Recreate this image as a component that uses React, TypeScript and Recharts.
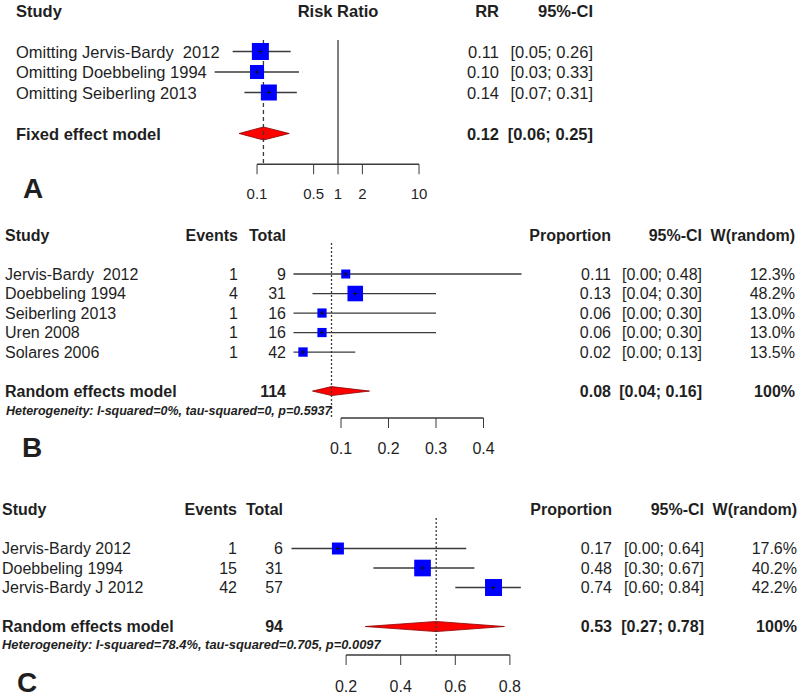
import {
  ComposedChart, Scatter, Area, XAxis, YAxis, ErrorBar, ReferenceLine,
} from 'recharts'

const FONT = '"Liberation Sans", Arial, Helvetica, sans-serif'
const INK = '#1f1f1f'
const LINE = '#3a3a3a'

// A: leave-one-out sensitivity, risk ratio (log scale)
const aStudies = ['Omitting Jervis-Bardy  2012', 'Omitting Doebbeling 1994', 'Omitting Seiberling 2013']
const aRR = [0.11, 0.10, 0.14]
const aLower = [0.05, 0.03, 0.07]
const aUpper = [0.26, 0.33, 0.31]
const aFixed = [0.12, 0.06, 0.25]
const aTicks = [0.1, 0.5, 1, 2, 10]

// B: pooled proportion
const bStudies = ['Jervis-Bardy  2012', 'Doebbeling 1994', 'Seiberling 2013', 'Uren 2008', 'Solares 2006']
const bEvents = [1, 4, 1, 1, 1]
const bTotal = [9, 31, 16, 16, 42]
const bProp = [0.11, 0.13, 0.06, 0.06, 0.02]
const bLower = [0.00, 0.04, 0.00, 0.00, 0.00]
const bUpper = [0.48, 0.30, 0.30, 0.30, 0.13]
const bWeight = [12.3, 48.2, 13.0, 13.0, 13.5]
const bRandom = [0.08, 0.04, 0.16]
const bRandomTotal = 114
const bHetero = 'Heterogeneity: I-squared=0%, tau-squared=0, p=0.5937'
const bTicks = [0.1, 0.2, 0.3, 0.4]

// C: pooled proportion
const cStudies = ['Jervis-Bardy 2012', 'Doebbeling 1994', 'Jervis-Bardy J 2012']
const cEvents = [1, 15, 42]
const cTotal = [6, 31, 57]
const cProp = [0.17, 0.48, 0.74]
const cLower = [0.00, 0.30, 0.60]
const cUpper = [0.64, 0.67, 0.84]
const cWeight = [17.6, 40.2, 42.2]
const cRandom = [0.53, 0.27, 0.78]
const cRandomTotal = 94
const cHetero = 'Heterogeneity: I-squared=78.4%, tau-squared=0.705, p=0.0097'
const cTicks = [0.2, 0.4, 0.6, 0.8]

// box sizes for panel A (no weights printed there)
const aBoxPx = [17, 14, 16]

const f2 = (v: number) => v.toFixed(2)
const ci = (lo: number, hi: number) => `[${f2(lo)}; ${f2(hi)}]`
const pct = (w: number) => `${w.toFixed(1)}%`
const boxSide = (w: number, k: number) => k * Math.pow(w, 0.4)

type Cell = { t: string; x: number; a?: 'start' | 'end' | 'middle'; b?: boolean; i?: boolean; fs?: number }
type Row = { row: number; cells: Cell[] }

function RowTick(props: any) {
  const { y, payload, rows, fs } = props
  const r = (rows as Row[]).find((rr) => Math.abs(rr.row - payload.value) < 1e-6)
  if (!r) return <g />
  return (
    <g>
      {r.cells.map((c, k) => (
        <text
          key={k}
          x={c.x}
          y={y}
          textAnchor={c.a ?? 'start'}
          dominantBaseline="central"
          fontFamily={FONT}
          fontSize={c.fs ?? fs}
          fontWeight={c.b ? 700 : 400}
          fontStyle={c.i ? 'italic' : 'normal'}
          fill={INK}
          style={{ whiteSpace: 'pre' }}
        >
          {c.t}
        </text>
      ))}
    </g>
  )
}

function XTick(props: any) {
  const { x, y, payload, fs } = props
  return (
    <text x={x} y={y} textAnchor="middle" dominantBaseline="central" fontFamily={FONT} fontSize={fs} fill={INK}>
      {String(payload.value)}
    </text>
  )
}

const Box = (props: any) => {
  const { cx, cy, payload } = props
  const s = payload.box
  return (
    <g>
      <rect x={cx - s / 2} y={cy - s / 2} width={s} height={s} fill="#0000ff" />
      <path d={`M${cx - 2},${cy}H${cx + 2}M${cx},${cy - 2}V${cy + 2}`} stroke="#111" strokeWidth={1} />
    </g>
  )
}

type Seg = { x: number; y0: number; y1: number; dash?: string }

type PanelProps = {
  top: number
  height: number
  margin: { top: number; right: number; bottom: number; left: number }
  log?: boolean
  xDomain: [number, number]
  xTicks: number[]
  tickFs: number
  tickMargin: number
  xAxisHeight: number
  yMax: number
  fs: number
  rows: Row[]
  points: { x: number; y: number; err: [number, number]; box: number }[]
  diamond: { x: number; band: [number, number] }[]
  refs: Seg[]
}

function ForestPanel(p: PanelProps) {
  const yTicks = p.rows.map((r) => r.row)
  return (
    <div style={{ position: 'absolute', left: 0, top: p.top }}>
      <ComposedChart width={799} height={p.height} margin={{ ...p.margin, left: p.margin.left - 1 }}>
        <XAxis
          type="number"
          dataKey="x"
          scale={p.log ? 'log' : 'linear'}
          domain={p.xDomain}
          ticks={p.xTicks}
          interval={0}
          axisLine={false}
          tickSize={10}
          tickMargin={p.tickMargin}
          height={p.xAxisHeight}
          stroke={LINE}
          tick={(t: any) => <XTick {...t} fs={p.tickFs} />}
        />
        <YAxis
          type="number"
          dataKey="y"
          domain={[0, p.yMax]}
          reversed
          width={1}
          ticks={yTicks}
          interval={0}
          axisLine={false}
          tickLine={false}
          tick={(t: any) => <RowTick {...t} rows={p.rows} fs={p.fs} />}
        />
        {p.refs.map((s, k) => (
          <ReferenceLine
            key={k}
            segment={[{ x: s.x, y: s.y0 }, { x: s.x, y: s.y1 }]}
            stroke={LINE}
            strokeWidth={1.3}
            strokeDasharray={s.dash}
            ifOverflow="visible"
          />
        ))}
        <ReferenceLine
          segment={[{ x: p.xTicks[0], y: p.yMax }, { x: p.xTicks[p.xTicks.length - 1], y: p.yMax }]}
          stroke={LINE}
          strokeWidth={1.3}
          ifOverflow="visible"
        />
        <Area
          data={p.diamond}
          dataKey="band"
          type="linear"
          fill="#ff0000"
          fillOpacity={1}
          stroke="#8a0000"
          strokeWidth={0.8}
          dot={false}
          activeDot={false}
          isAnimationActive={false}
        />
        <Scatter data={p.points} shape={Box} isAnimationActive={false}>
          <ErrorBar dataKey="err" direction="x" width={0} stroke={LINE} strokeWidth={1.3} />
        </Scatter>
      </ComposedChart>
    </div>
  )
}

const diamondOf = (est: number, lo: number, hi: number, row: number, h: number) => [
  { x: lo, band: [row, row] as [number, number] },
  { x: est, band: [row - h, row + h] as [number, number] },
  { x: hi, band: [row, row] as [number, number] },
]

// ---- panel A
const aRows: Row[] = [
  {
    row: 0,
    cells: [
      { t: 'Study', x: 16, b: true },
      { t: 'Risk Ratio', x: 338, a: 'middle', b: true },
      { t: 'RR', x: 499, a: 'end', b: true },
      { t: '95%-CI', x: 593, a: 'end', b: true },
    ],
  },
  ...aStudies.map((s, i) => ({
    row: i + 2,
    cells: [
      { t: s, x: 16 },
      { t: f2(aRR[i]), x: 499, a: 'end' as const },
      { t: ci(aLower[i], aUpper[i]), x: 593, a: 'end' as const },
    ],
  })),
  {
    row: 6,
    cells: [
      { t: 'Fixed effect model', x: 16, b: true },
      { t: f2(aFixed[0]), x: 499, a: 'end', b: true },
      { t: ci(aFixed[1], aFixed[2]), x: 593, a: 'end', b: true },
    ],
  },
]
const aPoints = aRR.map((v, i) => ({
  x: v, y: i + 2, err: [v - aLower[i], aUpper[i] - v] as [number, number], box: aBoxPx[i],
}))

// ---- panel B
const bRows: Row[] = [
  {
    row: 0,
    cells: [
      { t: 'Study', x: 5, b: true },
      { t: 'Events', x: 238, a: 'end', b: true },
      { t: 'Total', x: 286, a: 'end', b: true },
      { t: 'Proportion', x: 611, a: 'end', b: true },
      { t: '95%-CI', x: 702, a: 'end', b: true },
      { t: 'W(random)', x: 795, a: 'end', b: true },
    ],
  },
  ...bStudies.map((s, i) => ({
    row: i + 2,
    cells: [
      { t: s, x: 5 },
      { t: String(bEvents[i]), x: 238, a: 'end' as const },
      { t: String(bTotal[i]), x: 286, a: 'end' as const },
      { t: f2(bProp[i]), x: 611, a: 'end' as const },
      { t: ci(bLower[i], bUpper[i]), x: 702, a: 'end' as const },
      { t: pct(bWeight[i]), x: 795, a: 'end' as const },
    ],
  })),
  {
    row: 8,
    cells: [
      { t: 'Random effects model', x: 5, b: true },
      { t: String(bRandomTotal), x: 286, a: 'end', b: true },
      { t: f2(bRandom[0]), x: 611, a: 'end', b: true },
      { t: ci(bRandom[1], bRandom[2]), x: 702, a: 'end', b: true },
      { t: '100%', x: 795, a: 'end', b: true },
    ],
  },
  { row: 9, cells: [{ t: bHetero, x: 6, b: true, i: true, fs: 12.5 }] },
]
const bPoints = bProp.map((v, i) => ({
  x: v, y: i + 2, err: [v - bLower[i], bUpper[i] - v] as [number, number], box: boxSide(bWeight[i], 3.3),
}))

// ---- panel C
const cRows: Row[] = [
  {
    row: 0,
    cells: [
      { t: 'Study', x: 2, b: true },
      { t: 'Events', x: 237, a: 'end', b: true },
      { t: 'Total', x: 283, a: 'end', b: true },
      { t: 'Proportion', x: 612, a: 'end', b: true },
      { t: '95%-CI', x: 704, a: 'end', b: true },
      { t: 'W(random)', x: 797, a: 'end', b: true },
    ],
  },
  ...cStudies.map((s, i) => ({
    row: i + 2,
    cells: [
      { t: s, x: 2 },
      { t: String(cEvents[i]), x: 237, a: 'end' as const },
      { t: String(cTotal[i]), x: 283, a: 'end' as const },
      { t: f2(cProp[i]), x: 612, a: 'end' as const },
      { t: ci(cLower[i], cUpper[i]), x: 704, a: 'end' as const },
      { t: pct(cWeight[i]), x: 797, a: 'end' as const },
    ],
  })),
  {
    row: 6,
    cells: [
      { t: 'Random effects model', x: 2, b: true },
      { t: String(cRandomTotal), x: 283, a: 'end', b: true },
      { t: f2(cRandom[0]), x: 612, a: 'end', b: true },
      { t: ci(cRandom[1], cRandom[2]), x: 704, a: 'end', b: true },
      { t: '100%', x: 797, a: 'end', b: true },
    ],
  },
  { row: 6.9, cells: [{ t: cHetero, x: 2, b: true, i: true, fs: 12.9 }] },
]
const cPoints = cProp.map((v, i) => ({
  x: v, y: i + 2, err: [v - cLower[i], cUpper[i] - v] as [number, number], box: boxSide(cWeight[i], 3.8),
}))

const letterStyle = (left: number, top: number): React.CSSProperties => ({
  position: 'absolute', left, top, fontFamily: FONT, fontWeight: 700, fontSize: 28, lineHeight: 1, color: INK,
})

export default function App() {
  return (
    <div style={{ position: 'absolute', left: 0, top: 0, width: 799, height: 698, background: '#fff', overflow: 'hidden' }}>
      <ForestPanel
        top={0}
        height={204}
        margin={{ top: 10.5, right: 355.6, bottom: 9.75, left: 200.4 }}
        log
        xDomain={[0.02, 20]}
        xTicks={aTicks}
        tickFs={15}
        tickMargin={19}
        xAxisHeight={30}
        yMax={7.5}
        fs={16.5}
        rows={aRows}
        points={aPoints}
        diamond={diamondOf(aFixed[0], aFixed[1], aFixed[2], 6, 0.32)}
        refs={[
          { x: 1, y0: 1.44, y1: 7.5 },
          { x: aFixed[0], y0: 1.44, y1: 7.5, dash: '4 3' },
        ]}
      />
      <ForestPanel
        top={205}
        height={258}
        margin={{ top: 30, right: 268, bottom: 15, left: 293.5 }}
        xDomain={[0, 0.5]}
        xTicks={bTicks}
        tickFs={16}
        tickMargin={20}
        xAxisHeight={30}
        yMax={9.38}
        fs={16}
        rows={bRows}
        points={bPoints}
        diamond={diamondOf(bRandom[0], bRandom[1], bRandom[2], 8, 0.23)}
        refs={[{ x: bRandom[0], y0: 0.41, y1: 9.38, dash: '2 2' }]}
      />
      <ForestPanel
        top={470}
        height={228}
        margin={{ top: 39.5, right: 261.8, bottom: 11, left: 291.5 }}
        xDomain={[0, 0.9]}
        xTicks={cTicks}
        tickFs={16}
        tickMargin={21}
        xAxisHeight={32}
        yMax={7.46}
        fs={16}
        rows={cRows}
        points={cPoints}
        diamond={diamondOf(cRandom[0], cRandom[1], cRandom[2], 6, 0.26)}
        refs={[{ x: cRandom[0], y0: 0.44, y1: 7.46, dash: '2 2' }]}
      />
      <div style={letterStyle(23, 175)}>A</div>
      <div style={letterStyle(22, 434)}>B</div>
      <div style={letterStyle(17, 669)}>C</div>
    </div>
  )
}
